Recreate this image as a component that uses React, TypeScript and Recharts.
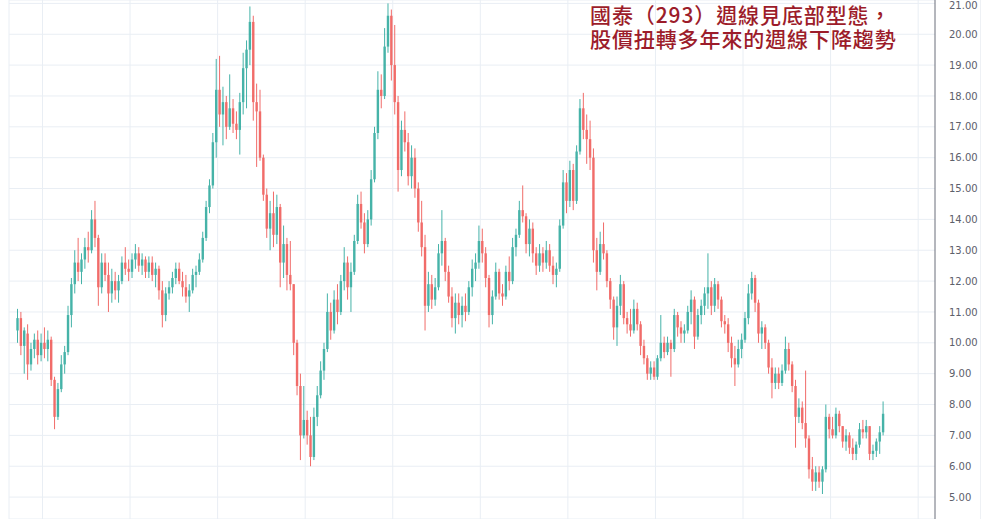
import { Bar, CartesianGrid, ComposedChart, XAxis, YAxis } from "recharts";

// one candle per two weeks: [open, high, low, close]
type Candle = [number, number, number, number];

const part0: Candle[] = [
	[10.4, 11.1, 10.0, 10.8], [10.8, 11.0, 9.6, 9.9], [9.9, 10.5, 9.0, 10.4], [10.3, 10.6, 8.8, 9.3],
	[9.3, 10.0, 9.1, 9.8], [9.8, 10.3, 9.5, 10.1], [10.1, 10.4, 9.3, 9.6], [9.6, 10.3, 9.4, 10.0],
];
const part1: Candle[] = [
	[10.0, 10.5, 9.5, 9.8], [9.8, 10.4, 9.4, 10.1], [10.1, 10.2, 8.6, 8.8], [8.8, 8.9, 7.2, 7.6],
	[7.6, 8.7, 7.5, 8.5], [8.5, 9.6, 8.4, 9.3], [9.3, 9.9, 9.0, 9.7], [9.7, 11.2, 9.6, 10.9],
	[10.9, 12.1, 10.5, 11.9], [11.9, 13.0, 11.6, 12.6], [12.6, 13.4, 12.0, 12.3], [12.3, 12.9, 11.9, 12.7],
	[12.7, 13.4, 12.4, 13.1], [13.1, 13.6, 12.6, 13.0], [13.0, 14.3, 12.9, 14.0], [14.0, 14.6, 13.1, 13.4],
	[13.4, 13.5, 11.2, 11.8], [11.8, 12.9, 11.6, 12.6], [12.6, 12.9, 12.0, 12.2], [12.2, 12.6, 11.0, 11.6],
	[11.6, 12.4, 11.3, 12.0], [12.0, 12.3, 11.4, 11.7], [11.7, 12.2, 11.3, 12.0], [12.0, 12.8, 11.9, 12.6],
	[12.6, 13.1, 12.2, 12.4], [12.4, 12.7, 12.0, 12.3],
];
const part2: Candle[] = [
	[12.3, 12.9, 12.1, 12.7], [12.7, 13.2, 12.4, 12.9], [12.9, 13.1, 12.3, 12.5], [12.5, 12.9, 12.2, 12.7],
	[12.7, 12.8, 12.1, 12.3], [12.3, 12.8, 12.1, 12.6], [12.6, 12.8, 12.0, 12.2], [12.2, 12.6, 11.8, 12.4],
	[12.4, 12.5, 11.4, 11.7], [11.7, 12.0, 10.5, 10.9], [10.9, 11.8, 10.7, 11.6], [11.6, 12.0, 11.4, 11.8],
	[11.8, 12.3, 11.6, 12.1], [12.1, 12.6, 11.9, 12.4], [12.4, 12.6, 11.9, 12.0], [12.0, 12.3, 11.5, 11.8],
	[11.8, 12.2, 11.3, 11.5], [11.5, 11.9, 11.0, 11.7], [11.7, 12.4, 11.6, 12.2], [12.2, 12.5, 11.8, 12.3],
	[12.3, 12.9, 12.2, 12.7], [12.7, 13.6, 12.6, 13.4], [13.4, 14.6, 13.3, 14.4], [14.4, 15.3, 14.2, 15.1],
	[15.1, 16.8, 15.0, 16.5], [16.5, 19.2, 16.0, 18.2],
];
const part3: Candle[] = [
	[18.2, 19.3, 17.0, 17.4], [17.4, 18.3, 16.4, 17.8], [17.8, 18.0, 16.6, 17.0], [17.0, 18.7, 16.9, 17.6],
	[17.6, 17.9, 16.8, 17.1], [17.1, 17.5, 16.6, 16.9], [16.9, 18.1, 16.1, 17.8], [17.8, 19.4, 17.4, 18.9],
	[18.9, 19.8, 17.6, 19.5], [19.5, 20.9, 19.0, 20.4], [20.4, 20.6, 17.2, 17.8], [17.8, 18.4, 15.7, 17.5],
	[17.5, 18.2, 15.9, 16.0], [16.0, 16.1, 14.6, 14.8], [14.8, 15.0, 13.4, 13.7], [13.7, 14.6, 13.0, 14.2],
	[14.2, 14.9, 13.1, 13.5], [13.5, 14.8, 13.2, 14.4], [14.4, 14.5, 11.8, 12.6], [12.6, 13.8, 12.1, 13.2],
	[13.2, 13.4, 11.7, 12.2], [12.2, 13.3, 11.7, 11.9], [11.9, 11.9, 9.6, 10.0], [10.0, 10.1, 8.3, 8.6],
	[8.6, 9.0, 6.2, 7.0], [7.0, 8.6, 6.9, 7.5],
];
const part4: Candle[] = [
	[7.5, 7.8, 6.7, 7.0], [7.0, 7.6, 6.0, 6.3], [6.3, 7.9, 6.2, 7.6], [7.6, 8.6, 7.3, 8.3],
	[8.3, 9.4, 8.2, 9.1], [9.1, 10.0, 8.8, 9.8], [9.8, 11.6, 9.7, 11.0], [11.0, 11.3, 10.1, 10.4],
	[10.4, 11.7, 10.3, 11.4], [11.4, 11.9, 10.6, 11.0], [11.0, 12.2, 10.9, 12.0], [12.0, 13.1, 11.7, 12.6],
	[12.6, 12.8, 11.4, 11.8], [11.8, 12.6, 11.0, 12.3], [12.3, 13.5, 12.2, 13.3], [13.3, 14.8, 13.2, 14.5],
	[14.5, 14.9, 13.7, 13.9], [13.9, 14.2, 12.9, 13.2], [13.2, 14.3, 13.1, 14.0], [14.0, 15.6, 13.8, 15.3],
	[15.3, 17.0, 15.2, 16.8], [16.8, 18.8, 16.6, 18.2], [18.2, 18.7, 17.6, 18.0], [18.0, 20.2, 17.9, 19.6],
	[19.6, 21.0, 19.4, 20.6], [20.6, 20.8, 18.5, 19.0],
];
const part5: Candle[] = [
	[19.0, 20.3, 17.4, 17.8], [17.8, 18.0, 14.9, 15.6], [15.6, 17.2, 15.4, 16.9], [16.9, 17.5, 16.2, 16.5],
	[16.5, 16.8, 15.1, 15.4], [15.4, 16.4, 15.0, 16.0], [16.0, 16.3, 14.7, 15.0], [15.0, 15.2, 13.6, 13.9],
	[13.9, 14.6, 12.8, 13.1], [13.1, 13.5, 10.4, 11.2], [11.2, 12.3, 11.0, 11.9], [11.9, 12.2, 11.1, 11.4],
	[11.4, 12.1, 11.2, 11.8], [11.8, 13.2, 11.7, 12.9], [12.9, 14.3, 12.5, 13.3], [13.3, 13.4, 12.0, 12.3],
	[12.3, 12.5, 11.3, 11.5], [11.5, 11.8, 10.5, 10.8], [10.8, 11.6, 10.3, 11.3], [11.3, 11.6, 10.6, 10.9],
	[10.9, 11.5, 10.5, 11.2], [11.2, 11.6, 10.7, 11.0], [11.0, 12.0, 10.9, 11.8], [11.8, 12.7, 11.5, 12.4],
	[12.4, 12.9, 12.0, 12.6], [12.6, 13.8, 12.4, 13.3],
];
const part6: Candle[] = [
	[13.3, 13.7, 12.6, 12.9], [12.9, 13.1, 11.8, 12.1], [12.1, 12.2, 10.5, 10.9], [10.9, 11.7, 10.6, 11.5],
	[11.5, 12.6, 11.4, 12.3], [12.3, 12.4, 11.4, 11.6], [11.6, 11.9, 11.2, 11.5], [11.5, 12.5, 11.4, 12.3],
	[12.3, 12.8, 11.7, 12.0], [12.0, 13.4, 11.9, 13.1], [13.1, 13.7, 12.8, 13.5], [13.5, 14.6, 13.4, 14.3],
	[14.3, 15.1, 13.9, 14.1], [14.1, 14.2, 12.9, 13.2], [13.2, 14.0, 12.8, 13.7], [13.7, 13.9, 12.6, 12.9],
	[12.9, 13.1, 12.2, 12.5], [12.5, 13.2, 12.3, 12.9], [12.9, 13.1, 12.3, 12.6], [12.6, 13.3, 12.4, 13.0],
	[13.0, 13.2, 12.3, 12.5], [12.5, 12.8, 11.9, 12.2], [12.2, 12.6, 11.8, 12.4], [12.4, 14.0, 12.3, 13.8],
	[13.8, 15.6, 13.7, 15.2], [15.2, 15.5, 14.2, 14.6],
];
const part7: Candle[] = [
	[14.6, 15.9, 14.4, 15.6], [15.6, 15.8, 14.3, 14.6], [14.6, 16.4, 14.5, 16.2], [16.2, 17.9, 16.1, 17.6],
	[17.6, 18.1, 16.6, 16.9], [16.9, 17.4, 15.8, 16.6], [16.6, 17.2, 15.6, 16.0], [16.0, 16.3, 12.6, 13.0],
	[13.0, 13.4, 11.7, 12.3], [12.3, 13.6, 12.2, 13.2], [13.2, 13.9, 12.7, 12.9], [12.9, 13.0, 11.8, 12.0],
	[12.0, 12.1, 11.1, 11.4], [11.4, 11.5, 10.1, 10.5], [10.5, 11.5, 9.9, 11.2], [11.2, 12.2, 10.9, 11.9],
	[11.9, 12.0, 10.6, 10.8], [10.8, 11.0, 10.3, 10.6], [10.6, 11.1, 10.2, 10.4], [10.4, 11.4, 10.3, 11.1],
	[11.1, 11.3, 10.4, 10.6], [10.6, 10.7, 9.6, 9.9], [9.9, 10.1, 9.3, 9.5], [9.5, 9.6, 8.8, 9.0],
	[9.0, 9.4, 8.8, 9.2], [9.2, 9.4, 8.8, 8.9],
];
const part8: Candle[] = [
	[8.9, 9.6, 8.8, 9.5], [9.5, 10.9, 9.4, 10.0], [10.0, 10.2, 9.5, 9.7], [9.7, 10.2, 9.6, 10.0],
	[10.0, 10.1, 8.9, 9.8], [9.8, 11.1, 9.7, 10.9], [10.9, 11.0, 10.2, 10.5], [10.5, 10.7, 10.0, 10.3],
	[10.3, 10.6, 10.0, 10.4], [10.4, 11.2, 10.3, 11.0], [11.0, 11.7, 10.6, 11.4], [11.4, 11.5, 9.8, 10.2],
	[10.2, 11.1, 10.1, 10.9], [10.9, 11.4, 10.6, 11.2], [11.2, 11.8, 10.9, 11.6], [11.6, 12.9, 11.1, 11.8],
	[11.8, 12.0, 10.9, 11.2], [11.2, 12.1, 11.0, 11.9], [11.9, 12.0, 11.1, 11.4], [11.4, 11.5, 10.5, 10.7],
	[10.7, 10.9, 10.3, 10.6], [10.6, 10.8, 9.7, 10.0], [10.0, 10.2, 9.2, 9.5], [9.5, 9.9, 8.6, 9.3],
	[9.3, 10.1, 9.2, 9.8], [9.8, 10.3, 9.5, 10.1],
];
const part9: Candle[] = [
	[10.1, 11.0, 10.0, 10.8], [10.8, 11.9, 10.6, 11.6], [11.6, 12.3, 11.4, 12.1], [12.1, 12.2, 11.0, 11.3],
	[11.3, 11.4, 10.0, 10.3], [10.3, 10.7, 9.8, 10.5], [10.5, 10.6, 9.8, 10.0], [10.0, 10.1, 9.0, 9.2],
	[9.2, 9.5, 8.2, 8.7], [8.7, 9.2, 8.5, 9.0], [9.0, 9.2, 8.5, 8.7], [8.7, 9.3, 8.6, 9.1],
	[9.1, 10.2, 9.0, 9.8], [9.8, 10.0, 9.1, 9.3], [9.3, 9.4, 8.4, 8.6], [8.6, 8.8, 6.6, 7.6],
	[7.6, 8.2, 7.4, 7.9], [7.9, 8.1, 7.2, 7.4], [7.4, 9.1, 6.6, 6.9], [6.9, 7.0, 5.6, 5.9],
	[5.9, 6.3, 5.2, 5.5], [5.5, 6.0, 5.2, 5.8], [5.8, 6.0, 5.3, 5.5], [5.5, 6.0, 5.1, 5.9],
	[5.9, 8.0, 5.8, 7.6], [7.6, 7.7, 6.9, 7.2],
];
const part10: Candle[] = [
	[7.2, 7.6, 6.9, 7.0], [7.0, 7.9, 6.9, 7.7], [7.7, 7.8, 7.1, 7.3], [7.3, 7.3, 6.6, 6.8],
	[6.8, 7.2, 6.5, 7.0], [7.0, 7.1, 6.4, 6.6], [6.6, 6.9, 6.2, 6.4], [6.4, 6.8, 6.2, 6.7],
	[6.7, 7.4, 6.6, 7.2], [7.2, 7.5, 6.9, 7.1], [7.1, 7.5, 6.9, 7.3], [7.3, 7.3, 6.2, 6.4],
	[6.4, 6.7, 6.2, 6.5], [6.5, 6.9, 6.3, 6.8], [6.8, 7.3, 6.4, 7.1], [7.1, 8.1, 7.0, 7.7],
];

// vertical grid lines (in candle index units) and price ticks
const yearLines = [-2.67, 7.27, 33.27, 59.27, 85.27, 111.27, 137.27, 163.27, 189.27, 215.27, 241.27, 267.27];
const priceTicks = [5, 6, 7, 8, 9, 10, 11, 12, 13, 14, 15, 16, 17, 18, 19, 20, 21];

const X_MIN = -2.67;
const X_MAX = 272.27;
const UP = "#26a69a";
const DOWN = "#ef5350";

const data = [part0, part1, part2, part3, part4, part5, part6, part7, part8, part9, part10]
	.flat()
	.map(([open, high, low, close], i) => ({ i, open, high, low, close, range: [low, high] }));

function CandleShape(props: any) {
	const { x, y, width, height, payload } = props;
	if (!payload || height == null) return null;
	const { open, close, high, low } = payload;
	const top = Math.min(y, y + height);
	const h = Math.abs(height);
	const unit = h / (high - low || 1);
	const color = close >= open ? UP : DOWN;
	const bodyTop = top + (high - Math.max(open, close)) * unit;
	const bodyH = Math.max(1, Math.abs(open - close) * unit);
	const cx = x + width / 2;
	return (
		<g opacity={0.85}>
			<line x1={cx} x2={cx} y1={top} y2={top + h} stroke={color} strokeWidth={1} />
			<rect x={x} y={bodyTop} width={width} height={bodyH} fill={color} />
		</g>
	);
}

export default function App() {
	return (
		<div
			style={{
				position: "absolute",
				left: 0,
				top: 0,
				width: 990,
				height: 519,
				background: "#fff",
				overflow: "hidden",
			}}
		>
			<ComposedChart width={990} height={519} data={data} margin={{ top: 0, right: 0, left: 9, bottom: 0 }}>
				<CartesianGrid
					stroke="#e9eef4"
					verticalCoordinatesGenerator={({ xAxis, offset }: any) =>
						yearLines.map((v) =>
							xAxis && typeof xAxis.scale === "function"
								? xAxis.scale(v)
								: offset.left + ((v - X_MIN) / (X_MAX - X_MIN)) * offset.width,
						)
					}
				/>
				<XAxis
					type="number"
					dataKey="i"
					domain={[X_MIN, X_MAX]}
					allowDataOverflow
					ticks={yearLines}
					tick={false}
					axisLine={false}
					tickLine={false}
					height={0}
				/>
				<YAxis
					orientation="right"
					type="number"
					domain={[4.29, 21.11]}
					allowDataOverflow
					ticks={priceTicks}
					tickFormatter={(v: number) => v.toFixed(2)}
					width={55}
					axisLine={{ stroke: "#6b6f7a" }}
					tickLine={false}
					tickMargin={8}
					tick={{ fill: "#5d606b", fontSize: 10, fontFamily: "DejaVu Sans" }}
				/>
				<Bar dataKey="range" barSize={2.4} shape={CandleShape} isAnimationActive={false} />
			</ComposedChart>
			<div
				style={{
					position: "absolute",
					left: 980,
					top: 0,
					width: 0,
					height: 519,
					borderLeft: "1px solid #eef1f5",
				}}
			/>
			<div
				style={{
					position: "absolute",
					left: 590,
					top: 3,
					fontFamily: "'Noto Sans CJK TC', sans-serif",
					fontSize: 21,
					lineHeight: "23.5px",
					letterSpacing: "0.9px",
					fontWeight: 500,
					color: "#9c1c2a",
					whiteSpace: "nowrap",
				}}
			>
				<div>國泰（293）週線見底部型態，</div>
				<div>股價扭轉多年來的週線下降趨勢</div>
			</div>
		</div>
	);
}
